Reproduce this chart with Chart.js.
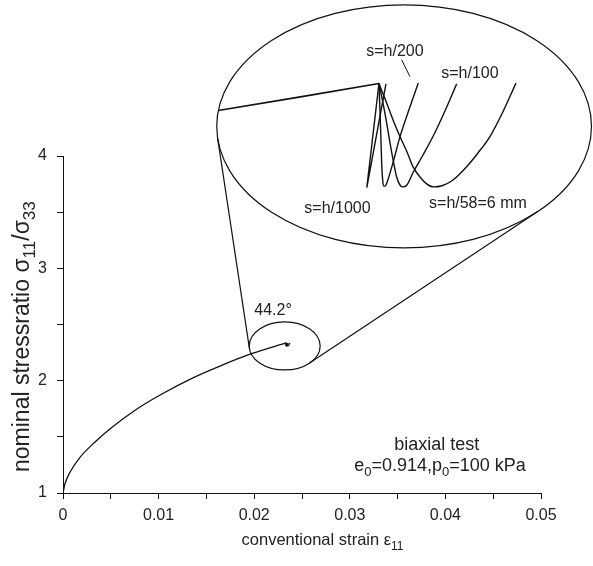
<!DOCTYPE html>
<html>
<head>
<meta charset="utf-8">
<script src="https://cdn.jsdelivr.net/npm/chart.js@4.4.1/dist/chart.umd.min.js"></script>
<style>
  html, body { margin: 0; padding: 0; background: #fff; }
  #wrap { width: 593px; height: 566px; }
</style>
</head>
<body>
<div id="wrap"><canvas id="chart"></canvas></div>
<script>
// loading curve up to peak
const strain = [0, 0.0002, 0.0007, 0.0018, 0.0033, 0.0049, 0.0075, 0.0102, 0.0137, 0.0167, 0.0198, 0.02334];
const stressRatio = [1.0, 1.08, 1.18, 1.32, 1.45, 1.57, 1.735, 1.875, 2.03, 2.14, 2.242, 2.336];

// last part before the peak, as seen in the zoom
const preStrain = [0.02289, 0.02312, 0.02334];
const preRatio = [2.3289, 2.3325, 2.3360];

// post-peak branches for the different widths s
const s1000Strain = [0.0233400, 0.0233060, 0.0233596];
const s1000Ratio = [2.3360, 2.3087, 2.3359];

const s200Strain = [0.0233400, 0.0233428, 0.0233456, 0.0233478, 0.0233506, 0.0233540, 0.0233582, 0.0233652, 0.0233792, 0.0233988, 0.0234240, 0.0234501];
const s200Ratio = [2.3360, 2.3291, 2.3212, 2.3147, 2.3105, 2.3091, 2.3092, 2.3108, 2.3152, 2.3220, 2.3291, 2.3361];

const s100Strain = [0.0233400, 0.0233512, 0.0233624, 0.0233708, 0.0233806, 0.0233896, 0.0233988, 0.0234072, 0.0234184, 0.0234352, 0.0234605, 0.0234913, 0.0235249, 0.0235577];
const s100Ratio = [2.3360, 2.3309, 2.3252, 2.3205, 2.3155, 2.3115, 2.3094, 2.3089, 2.3094, 2.3126, 2.3168, 2.3221, 2.3288, 2.3359];

const s58Strain = [0.0233400, 0.0233616, 0.0233792, 0.0233988, 0.0234184, 0.0234352, 0.0234549, 0.0234736, 0.0234921, 0.0235165, 0.0235445, 0.0235857, 0.0236173, 0.0236509, 0.0236873, 0.0237238];
const s58Ratio = [2.3360, 2.3309, 2.3265, 2.3221, 2.3181, 2.3142, 2.3115, 2.3097, 2.3089, 2.3092, 2.3105, 2.3142, 2.3178, 2.3221, 2.3286, 2.3361];

const branchNames = ['s=h/1000', 's=h/200', 's=h/100', 's=h/58=6 mm'];

const FONT = '"Liberation Sans", Arial, Helvetica, sans-serif';
const INK = '#222';

function pts(xs, ys) {
  return xs.map((v, i) => ({ x: v, y: ys[i] }));
}

const branches = [
  [s1000Strain, s1000Ratio],
  [s200Strain, s200Ratio],
  [s100Strain, s100Ratio],
  [s58Strain, s58Ratio]
];

const datasets = [];
datasets.push({
  data: pts(strain, stressRatio), xAxisID: 'x', yAxisID: 'y',
  borderColor: '#111', borderWidth: 1.3, pointRadius: 0,
  cubicInterpolationMode: 'monotone'
});
// tiny softening branches at true scale
branches.forEach(([xs, ys], i) => {
  datasets.push({
    data: pts(xs, ys), xAxisID: 'x', yAxisID: 'y',
    borderColor: '#111', borderWidth: 1.2, pointRadius: 0,
    tension: i === 0 ? 0 : 0.4
  });
});
// the same branches in the magnified lens
datasets.push({
  data: pts(preStrain, preRatio), xAxisID: 'xz', yAxisID: 'yz',
  borderColor: '#111', borderWidth: 1.6, pointRadius: 0, clip: false
});
branches.forEach(([xs, ys], i) => {
  datasets.push({
    label: branchNames[i],
    data: pts(xs, ys), xAxisID: 'xz', yAxisID: 'yz',
    borderColor: '#111', borderWidth: 1.4, pointRadius: 0, clip: false,
    cubicInterpolationMode: i === 0 ? 'default' : 'monotone',
    tension: 0
  });
});

// ellipse outlines (centre, radii) in data units
const lensSmall = { x: 0.02319, y: 2.309, rx: 0.00371, ry: 0.2137 };
const lensBig = { x: 0.03568, y: 4.264, rx: 0.0196, ry: 1.082 };

function toPx(e, sx, sy) {
  const cx = sx.getPixelForValue(e.x), cy = sy.getPixelForValue(e.y);
  return {
    cx, cy,
    rx: Math.abs(sx.getPixelForValue(e.x + e.rx) - cx),
    ry: Math.abs(sy.getPixelForValue(e.y + e.ry) - cy)
  };
}

function support(e, a) {
  const nx = Math.cos(a), ny = Math.sin(a);
  return nx * e.cx + ny * e.cy + Math.hypot(e.rx * nx, e.ry * ny);
}

function touchPoint(e, a) {
  const nx = Math.cos(a), ny = Math.sin(a);
  const s = Math.hypot(e.rx * nx, e.ry * ny);
  return { x: e.cx + e.rx * e.rx * nx / s, y: e.cy + e.ry * e.ry * ny / s };
}

// common outer tangent of two ellipses, searched between angles lo..hi
function tangent(a, b, lo, hi) {
  const f = t => support(a, t) - support(b, t);
  let flo = f(lo);
  for (let k = 0; k < 60; k++) {
    const mid = (lo + hi) / 2, fm = f(mid);
    if ((fm > 0) === (flo > 0)) { lo = mid; flo = fm; } else { hi = mid; }
  }
  const t = (lo + hi) / 2;
  return [touchPoint(a, t), touchPoint(b, t)];
}

function richText(ctx, parts, x, y, size, align) {
  const sub = Math.round(size * 0.72);
  const widths = parts.map(p => {
    ctx.font = (p.sub ? sub : size) + 'px ' + FONT;
    return ctx.measureText(p.t).width;
  });
  const total = widths.reduce((a, b) => a + b, 0);
  let cx = align === 'center' ? x - total / 2 : x;
  ctx.textAlign = 'left';
  ctx.textBaseline = 'alphabetic';
  parts.forEach((p, i) => {
    ctx.font = (p.sub ? sub : size) + 'px ' + FONT;
    ctx.fillText(p.t, cx, p.sub ? y + size * 0.28 : y);
    cx += widths[i];
  });
}

const overlay = {
  id: 'overlay',
  afterDatasetsDraw(chart) {
    const { ctx, chartArea: ca } = chart;
    const { x, y, xz, yz } = chart.scales;
    ctx.save();
    ctx.strokeStyle = '#111';
    ctx.lineWidth = 1.2;

    const small = toPx(lensSmall, x, y);
    const big = toPx(lensBig, x, y);
    [small, big].forEach(e => {
      ctx.beginPath();
      ctx.ellipse(e.cx, e.cy, e.rx, e.ry, 0, 0, Math.PI * 2);
      ctx.stroke();
    });

    // connectors between the lenses
    [tangent(big, small, Math.PI / 2, Math.PI), tangent(big, small, 0, Math.PI / 2)].forEach(([p, q]) => {
      ctx.beginPath();
      ctx.moveTo(p.x, p.y);
      ctx.lineTo(q.x, q.y);
      ctx.stroke();
    });

    // leader for s=h/200
    ctx.lineWidth = 1;
    ctx.beginPath();
    ctx.moveTo(xz.getPixelForValue(0.0234036), yz.getPixelForValue(2.3422));
    ctx.lineTo(xz.getPixelForValue(0.0234268), yz.getPixelForValue(2.3378));
    ctx.stroke();

    ctx.fillStyle = INK;
    const lensLabels = [
      ['s=h/1000', 0.0232238, 2.3021],
      ['s=h/200', 0.0233848, 2.3431],
      ['s=h/100', 0.0235949, 2.3374],
      ['s=h/58=6 mm', 0.0236173, 2.3033]
    ];
    lensLabels.forEach(([t, vx, vy]) => {
      richText(ctx, [{ t }], xz.getPixelForValue(vx), yz.getPixelForValue(vy), 16, 'center');
    });

    richText(ctx, [{ t: '44.2°' }], x.getPixelForValue(0.02197), y.getPixelForValue(2.585), 16, 'center');
    richText(ctx, [{ t: 'biaxial test' }], x.getPixelForValue(0.03909), y.getPixelForValue(1.383), 18, 'center');
    richText(ctx, [
      { t: 'e' }, { t: '0', sub: true }, { t: '=0.914,p' }, { t: '0', sub: true }, { t: '=100 kPa' }
    ], x.getPixelForValue(0.03944), y.getPixelForValue(1.196), 18, 'center');

    // axis titles
    richText(ctx, [{ t: 'conventional strain ε' }, { t: '11', sub: true }],
      ca.left + 0.543 * (ca.right - ca.left), ca.bottom + 52, 16.5, 'center');

    ctx.translate(ca.left - 34, ca.top + 0.536 * (ca.bottom - ca.top));
    ctx.rotate(-Math.PI / 2);
    richText(ctx, [
      { t: 'nominal stressratio σ' }, { t: '11', sub: true }, { t: '/σ' }, { t: '33', sub: true }
    ], 0, 0, 23, 'center');
    ctx.restore();
  }
};

const axisCommon = {
  grid: { drawOnChartArea: false, drawTicks: true, tickLength: 6, color: '#111', tickColor: '#111', tickWidth: 1 },
  border: { display: true, color: '#111', width: 1 }
};

new Chart(document.getElementById('chart'), {
  type: 'line',
  data: { datasets },
  options: {
    responsive: true,
    maintainAspectRatio: false,
    animation: false,
    parsing: false,
    layout: { padding: { top: 156, right: 52, left: 0, bottom: 0 } },
    plugins: { legend: { display: false }, tooltip: { enabled: false } },
    scales: {
      x: {
        type: 'linear', min: 0, max: 0.05,
        ...axisCommon,
        afterFit: s => { s.height = 73; },
        ticks: {
          stepSize: 0.005, autoSkip: false, maxRotation: 0, padding: 7,
          color: INK, font: { family: FONT, size: 16 },
          callback: v => (Math.round(v * 1000) % 10 === 0 ? String(+v.toFixed(2)) : '')
        }
      },
      y: {
        type: 'linear', min: 1, max: 4,
        ...axisCommon,
        afterFit: s => { s.width = 63; },
        ticks: {
          stepSize: 0.5, autoSkip: false, padding: 10,
          color: INK, font: { family: FONT, size: 16 },
          callback: v => (Number.isInteger(v) ? String(v) : '')
        }
      },
      // magnified window shown inside the big lens
      xz: { type: 'linear', display: false, min: 0.022455, max: 0.0237939 },
      yz: { type: 'linear', display: false, min: 2.2287, max: 2.3170 }
    }
  },
  plugins: [overlay]
});
</script>
</body>
</html>
